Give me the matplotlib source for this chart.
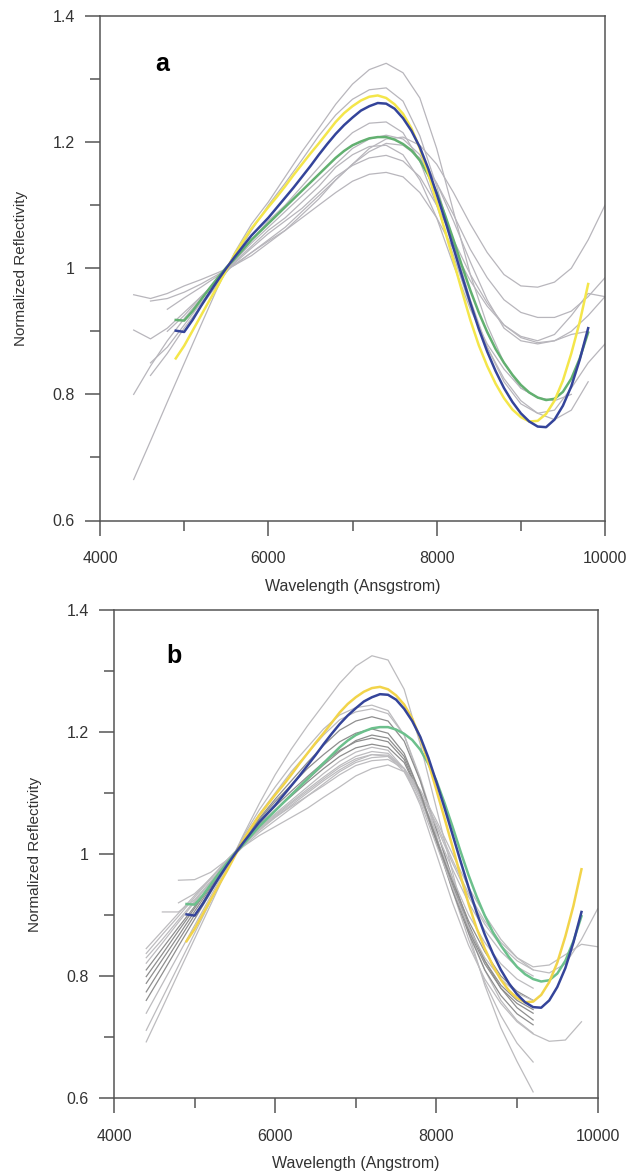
#!/usr/bin/env python3
# -*- coding: utf-8 -*-

import numpy as np
import matplotlib
matplotlib.use('Agg')
import matplotlib.pyplot as plt
from matplotlib.ticker import FixedLocator, FixedFormatter

N = float('nan')

# wavelength grid for the grey curves (Angstrom)
wl_grey = [4400, 4600, 4800, 5000, 5200, 5400, 5600, 5800, 6000, 6200,
           6400, 6600, 6800, 7000, 7200, 7400, 7600, 7800, 8000, 8200,
           8400, 8600, 8800, 9000, 9200, 9400, 9600, 9800, 10000]

# wavelength grid for the three fitted (coloured) curves
wl_fit = [4900, 5000, 5100, 5200, 5300, 5400, 5500, 5600, 5700, 5800,
          5900, 6000, 6100, 6200, 6300, 6400, 6500, 6600, 6700, 6800,
          6900, 7000, 7100, 7200, 7300, 7400, 7500, 7600, 7700, 7800,
          7900, 8000, 8100, 8200, 8300, 8400, 8500, 8600, 8700, 8800,
          8900, 9000, 9100, 9200, 9300, 9400, 9500, 9600, 9700, 9800]

blue = [0.901, 0.899, 0.918, 0.940, 0.961, 0.981, 1.000, 1.018, 1.035, 1.052,
        1.066, 1.080, 1.096, 1.112, 1.128, 1.145, 1.162, 1.180, 1.197, 1.213,
        1.227, 1.239, 1.250, 1.257, 1.262, 1.261, 1.253, 1.238, 1.218, 1.192,
        1.158, 1.118, 1.076, 1.032, 0.988, 0.945, 0.904, 0.868, 0.837, 0.810,
        0.788, 0.770, 0.757, 0.749, 0.748, 0.760, 0.782, 0.813, 0.855, 0.905]
yellow = [0.857, 0.877, 0.901, 0.925, 0.949, 0.972, 0.997, 1.022, 1.043, 1.063,
          1.080, 1.097, 1.113, 1.130, 1.148, 1.165, 1.182, 1.198, 1.215, 1.232,
          1.246, 1.257, 1.266, 1.272, 1.274, 1.270, 1.260, 1.245, 1.222, 1.190,
          1.150, 1.105, 1.059, 1.012, 0.964, 0.918, 0.878, 0.845, 0.817, 0.794,
          0.776, 0.764, 0.757, 0.758, 0.769, 0.790, 0.822, 0.865, 0.915, 0.975]
green = [0.918, 0.917, 0.932, 0.950, 0.968, 0.985, 1.001, 1.015, 1.030, 1.045,
         1.058, 1.071, 1.084, 1.097, 1.110, 1.123, 1.136, 1.149, 1.162, 1.175,
         1.186, 1.195, 1.201, 1.206, 1.208, 1.208, 1.204, 1.197, 1.187, 1.171,
         1.148, 1.120, 1.084, 1.045, 1.004, 0.965, 0.930, 0.899, 0.872, 0.850,
         0.831, 0.815, 0.803, 0.795, 0.791, 0.793, 0.804, 0.825, 0.857, 0.898]

# panel a: grey curves
a_grey = [
    [0.665, 0.726, 0.788, 0.849, 0.910, 0.970, 1.025, 1.070, 1.105, 1.145, 1.185, 1.222, 1.260, 1.292, 1.315,
     1.325, 1.310, 1.270, 1.190, 1.090, 0.990, 0.910, 0.850, 0.810, 0.795, N, N, N, N],
    [0.800, 0.845, 0.885, 0.920, 0.952, 0.982, 1.018, 1.060, 1.100, 1.135, 1.172, 1.210, 1.243, 1.268, 1.283,
     1.286, 1.265, 1.210, 1.130, 1.040, 0.950, 0.875, 0.820, 0.785, 0.770, 0.775, 0.810, 0.850, 0.880],
    [N, 0.830, 0.865, 0.905, 0.940, 0.975, 1.012, 1.045, 1.075, 1.100, 1.130, 1.160, 1.190, 1.215, 1.230,
     1.232, 1.215, 1.170, 1.100, 1.020, 0.940, 0.875, 0.825, 0.790, 0.770, 0.760, 0.775, 0.820, N],
    [N, 0.850, 0.875, 0.910, 0.945, 0.978, 1.012, 1.040, 1.065, 1.090, 1.115, 1.140, 1.165, 1.190, 1.205,
     1.211, 1.205, 1.180, 1.135, 1.075, 1.010, 0.950, 0.905, 0.885, 0.880, 0.885, 0.895, 0.900, N],
    [0.958, 0.952, 0.960, 0.972, 0.982, 0.993, 1.005, 1.020, 1.040, 1.060, 1.085, 1.110, 1.140, 1.165, 1.190,
     1.205, 1.208, 1.195, 1.165, 1.120, 1.070, 1.025, 0.990, 0.972, 0.970, 0.978, 1.000, 1.045, 1.100],
    [N, 0.948, 0.952, 0.962, 0.975, 0.990, 1.006, 1.025, 1.045, 1.065, 1.090, 1.115, 1.140, 1.165, 1.185,
     1.198, 1.195, 1.175, 1.135, 1.085, 1.030, 0.985, 0.950, 0.930, 0.922, 0.922, 0.932, 0.955, 0.985],
    [0.902, 0.888, 0.905, 0.930, 0.955, 0.980, 1.008, 1.032, 1.055, 1.075, 1.095, 1.120, 1.145, 1.163, 1.175,
     1.179, 1.170, 1.145, 1.100, 1.045, 0.990, 0.945, 0.910, 0.892, 0.885, 0.895, 0.925, 0.960, 0.955],
    [N, N, 0.935, 0.953, 0.970, 0.988, 1.005, 1.025, 1.043, 1.060, 1.080, 1.100, 1.120, 1.138, 1.149,
     1.152, 1.145, 1.120, 1.080, 1.030, 0.980, 0.940, 0.910, 0.890, 0.882, 0.885, 0.900, 0.925, 0.955],
    [N, N, 0.900, 0.925, 0.955, 0.982, 1.010, 1.035, 1.060, 1.080, 1.105, 1.130, 1.160, 1.180, 1.193,
     1.195, 1.180, 1.140, 1.080, 1.005, 0.935, 0.880, 0.840, 0.810, 0.795, 0.790, 0.800, N, N],
]

# panel b: grey curves
b_grey = [
    [0.692, 0.748, 0.805, 0.861, 0.917, 0.974, 1.030, 1.082, 1.130, 1.172, 1.210, 1.245, 1.280, 1.308, 1.325,
     1.318, 1.270, 1.180, 1.075, 0.970, 0.870, 0.785, 0.715, 0.660, 0.610, N, N, N, N],
    [0.711, 0.764, 0.817, 0.870, 0.923, 0.976, 1.028, 1.072, 1.110, 1.145, 1.175, 1.205, 1.228, 1.240, 1.244,
     1.235, 1.195, 1.120, 1.030, 0.940, 0.860, 0.790, 0.735, 0.690, 0.659, N, N, N, N],
    [0.739, 0.787, 0.835, 0.883, 0.931, 0.979, 1.025, 1.065, 1.100, 1.135, 1.165, 1.195, 1.220, 1.233, 1.238,
     1.230, 1.195, 1.125, 1.040, 0.955, 0.875, 0.810, 0.760, 0.727, 0.706, N, N, N, N],
    [0.774, 0.816, 0.858, 0.900, 0.941, 0.983, 1.022, 1.058, 1.090, 1.120, 1.150, 1.178, 1.203, 1.218, 1.225,
     1.218, 1.185, 1.120, 1.040, 0.960, 0.885, 0.825, 0.780, 0.748, 0.728, N, N, N, N],
    [0.788, 0.827, 0.866, 0.906, 0.945, 0.984, 1.020, 1.050, 1.078, 1.103, 1.127, 1.150, 1.170, 1.184, 1.190,
     1.184, 1.155, 1.095, 1.020, 0.945, 0.875, 0.820, 0.780, 0.755, 0.739, N, N, N, N],
    [0.799, 0.836, 0.874, 0.911, 0.948, 0.986, 1.020, 1.047, 1.072, 1.095, 1.118, 1.140, 1.160, 1.174, 1.180,
     1.175, 1.150, 1.095, 1.025, 0.955, 0.890, 0.840, 0.800, 0.775, 0.760, N, N, N, N],
    [0.821, 0.854, 0.888, 0.921, 0.954, 0.988, 1.018, 1.043, 1.066, 1.088, 1.110, 1.132, 1.152, 1.167, 1.175,
     1.170, 1.140, 1.080, 1.000, 0.920, 0.850, 0.795, 0.755, 0.725, 0.705, 0.693, 0.695, 0.725, N],
    [0.837, 0.868, 0.898, 0.929, 0.959, 0.990, 1.018, 1.042, 1.064, 1.085, 1.106, 1.126, 1.145, 1.160, 1.168,
     1.165, 1.140, 1.090, 1.025, 0.960, 0.900, 0.855, 0.820, 0.795, 0.780, N, N, N, N],
    [0.845, 0.874, 0.903, 0.932, 0.961, 0.990, 1.015, 1.038, 1.060, 1.080, 1.100, 1.120, 1.138, 1.153, 1.163,
     1.162, 1.140, 1.095, 1.035, 0.975, 0.920, 0.875, 0.840, 0.815, 0.800, N, N, N, N],
    [N, 0.905, 0.905, 0.925, 0.955, 0.985, 1.012, 1.035, 1.055, 1.075, 1.095, 1.115, 1.135, 1.150, 1.158,
     1.160, 1.140, 1.100, 1.045, 0.985, 0.930, 0.885, 0.850, 0.825, 0.810, N, N, N, N],
    [N, N, 0.957, 0.958, 0.970, 0.990, 1.012, 1.030, 1.045, 1.060, 1.075, 1.093, 1.110, 1.128, 1.140,
     1.146, 1.135, 1.100, 1.050, 0.990, 0.935, 0.890, 0.855, 0.830, 0.815, 0.818, 0.835, 0.852, 0.848],
    [N, N, 0.920, 0.935, 0.960, 0.988, 1.015, 1.040, 1.060, 1.078, 1.095, 1.112, 1.130, 1.145, 1.153,
     1.155, 1.140, 1.105, 1.055, 1.000, 0.945, 0.900, 0.860, 0.830, 0.810, 0.805, 0.820, 0.860, 0.910],
    [0.760, 0.804, 0.849, 0.893, 0.937, 0.982, 1.022, 1.056, 1.086, 1.113, 1.140, 1.163, 1.184, 1.198, 1.205,
     1.198, 1.165, 1.100, 1.020, 0.940, 0.870, 0.810, 0.768, 0.738, 0.720, N, N, N, N],
    [0.810, 0.845, 0.880, 0.914, 0.948, 0.982, 1.015, 1.045, 1.072, 1.098, 1.122, 1.146, 1.168, 1.186, 1.195,
     1.190, 1.160, 1.100, 1.025, 0.950, 0.880, 0.825, 0.785, 0.760, 0.745, N, N, N, N],
    [0.830, 0.860, 0.892, 0.923, 0.955, 0.987, 1.016, 1.040, 1.062, 1.083, 1.103, 1.123, 1.142, 1.156, 1.163,
     1.160, 1.135, 1.085, 1.015, 0.945, 0.880, 0.830, 0.795, 0.772, 0.760, N, N, N, N],
]
b_dark = [3, 4, 5, 12, 13]

y_ticks = [0.6, 0.8, 1.0, 1.2, 1.4]
y_tick_labels = ['0.6', '0.8', '1', '1.2', '1.4']
x_ticks = [4000, 6000, 8000, 10000]

TXT = '#333333'
plt.rcParams['font.family'] = ['Liberation Sans', 'DejaVu Sans']


def style_axes(ax, xlabel, letter):
    ax.set_xlim(4000, 10000)
    ax.set_ylim(0.6, 1.4)
    ax.xaxis.set_major_locator(FixedLocator(x_ticks))
    ax.xaxis.set_minor_locator(FixedLocator([5000, 7000, 9000]))
    ax.yaxis.set_major_locator(FixedLocator(y_ticks))
    ax.yaxis.set_major_formatter(FixedFormatter(y_tick_labels))
    ax.yaxis.set_minor_locator(FixedLocator([0.7, 0.9, 1.1, 1.3]))
    for s in ax.spines.values():
        s.set_color('#555555')
        s.set_linewidth(1.1)
    ax.tick_params(which='both', direction='out', color='#555555', width=1.1,
                   labelsize=11.5, labelcolor=TXT)
    ax.tick_params(which='major', length=11)
    ax.tick_params(which='minor', length=7)
    ax.tick_params(axis='x', which='major', pad=11)
    ax.tick_params(axis='y', which='major', pad=7)
    ax.set_xlabel(xlabel, fontsize=11.5, color=TXT, labelpad=9)
    ax.set_ylabel('Normalized Reflectivity', fontsize=11, color=TXT, labelpad=18)
    ax.text(0.124, 0.905, letter, transform=ax.transAxes, fontsize=18,
            fontweight='bold', ha='center', va='center', color='black')


def draw_fits(ax, green_col, yellow_col):
    ax.plot(wl_fit, green, color=green_col, lw=1.8, zorder=3)
    ax.plot(wl_fit, yellow, color=yellow_col, lw=1.8, zorder=4)
    ax.plot(wl_fit, blue, color='#34449a', lw=1.8, zorder=5)


fig = plt.figure(figsize=(6.3, 11.72), dpi=100)
W, H = 630.0, 1172.0

ax_a = fig.add_axes([100 / W, (H - 520.5) / H, 505 / W, 504.5 / H])
for r in a_grey:
    ax_a.plot(wl_grey, r, color='#b8b6bc', lw=0.9, zorder=2)
draw_fits(ax_a, '#62b070', '#f4e64a')
style_axes(ax_a, 'Wavelength (Ansgstrom)', 'a')

ax_b = fig.add_axes([114 / W, (H - 1098) / H, 483.6 / W, 488 / H])
for i, r in enumerate(b_grey):
    col = '#8e8e8e' if i in b_dark else '#bdbcbf'
    ax_b.plot(wl_grey, r, color=col, lw=0.9, zorder=2)
draw_fits(ax_b, '#6cc08c', '#f2d44a')
style_axes(ax_b, 'Wavelength (Angstrom)', 'b')

fig.savefig('out.png', dpi=100, facecolor='white')
